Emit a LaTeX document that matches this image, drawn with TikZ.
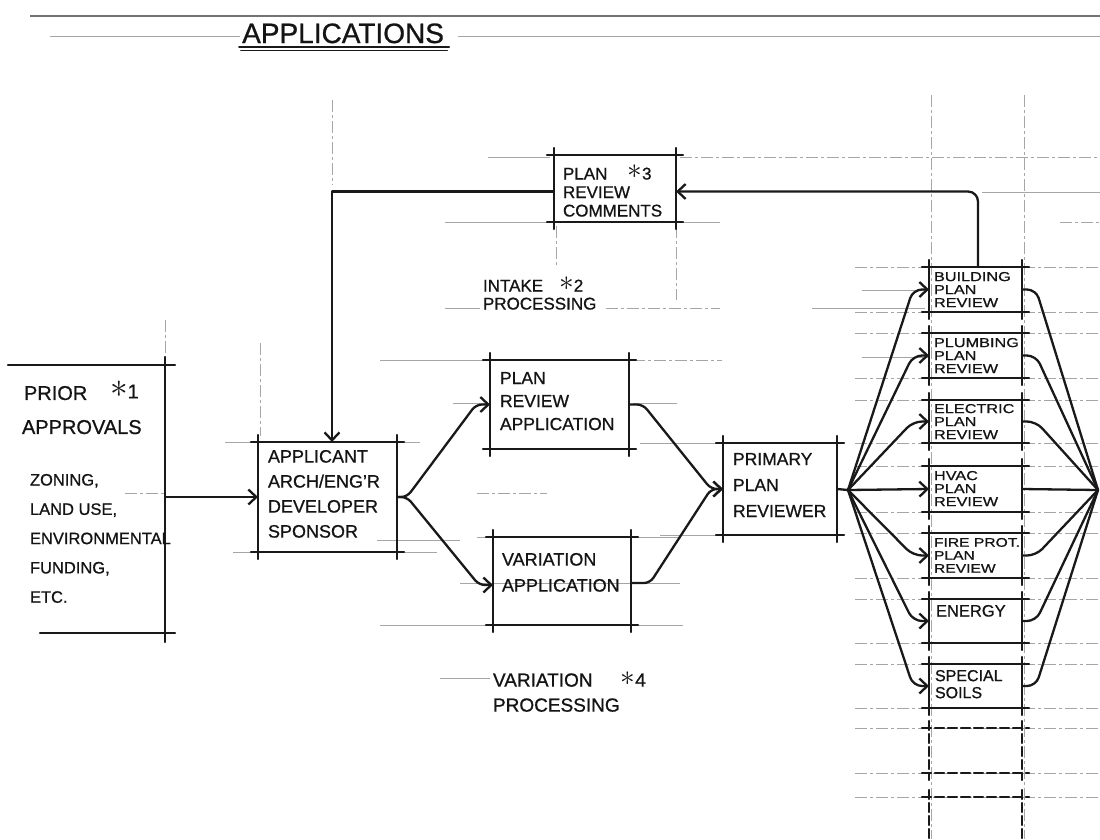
\documentclass[tikz,border=0pt]{standalone}
\usepackage{fontspec}
\setmainfont[FakeBold=0.8]{Liberation Sans}
\newfontfamily\widef[FakeStretch=1.25,FakeBold=0.8]{Liberation Sans}
\usetikzlibrary{arrows.meta,calc}
\newcommand\fs[2]{\fontsize{#1}{#2}\selectfont}
\newcommand\ask{\raisebox{0.05em}{\scalebox{1.7}{$\ast$}}}
% box with hand-drawn overshooting edges: [opts]{name}{x1}{y1}{x2}{y2}
\newcommand\skbox[6][]{%
  \node[inner sep=0pt, outer sep=0pt, minimum width={#5-#3}, minimum height={#6-#4}] (#2) at ({(#3+#5)/2},{(#4+#6)/2}) {};
  \draw[ink,#1] ([xshift=-7pt]#2.north west) -- ([xshift=7pt]#2.north east);
  \draw[ink,#1] ([xshift=-7pt]#2.south west) -- ([xshift=7pt]#2.south east);
  \draw[ink,#1] ([yshift=7pt]#2.north west) -- ([yshift=-7pt]#2.south west);
  \draw[ink,#1] ([yshift=7pt]#2.north east) -- ([yshift=-7pt]#2.south east);
}
\begin{document}
\begin{tikzpicture}[x=1pt,y=-1pt,
  ink/.style={line width=2.3pt, draw=black!90, line cap=round, line join=round},
  arr/.style={ink, -{Straight Barb[length=8pt,width=15pt]}},
  paper/.style={draw=black!35, line width=0.9pt},
  paperd/.style={draw=black!35, line width=0.9pt, dash pattern=on 12pt off 3pt on 3pt off 3pt},
  txt/.style={anchor=north west, inner sep=0pt, outer sep=0pt, align=left, text=black!92},
  ctx/.style={txt, font=\widef\fs{13}{13}},
]
\useasboundingbox (0,0) rectangle (1100,839);
\fill[white] (0,0) rectangle (1100,839);
\clip (0,0) rectangle (1100,839);

% ---- ruled paper lines (background) ----
\draw[draw=black!55, line width=1.1pt] (30,16) -- (1100,16);
\foreach \yy/\xa/\xb in {36/50/240, 36/458/1100,
  157/488/550, 222/445/550, 222/680/720, 308/445/480, 308/812/925,
  360/380/490, 403/453/490, 403/633/677, 442/225/420, 443/640/723,
  540/377/460, 537/477/493, 537/635/680, 535/660/723, 552/233/437,
  583/460/680, 625/380/683, 678/440/490, 192/982/1100,
  290/862/929, 357/862/929}
  \draw[paper] (\xa,\yy) -- (\xb,\yy);
\foreach \yy/\xa/\xb in {157/680/1100, 222/1060/1100, 308/606/720, 360/633/722,
  493/125/165, 493/477/547}
  \draw[paperd] (\xa,\yy) -- (\xb,\yy);
\foreach \yy in {267,312,333,378,400,443,466,512,533,578,599,643,664,708,728,773,797}
  \draw[paperd] (855,\yy) -- (1100,\yy);
\foreach \xx/\ya/\yb in {931/95/839, 1024/95/839, 332/100/185, 556/226/268,
  676/226/300, 165/320/357, 260/343/436}
  \draw[paperd] (\xx,\ya) -- (\xx,\yb);

% ---- title ----
\node[inner sep=0pt, anchor=base west, font=\fs{28}{30}, text=black!92] (title) at (242,43) {APPLICATIONS};
\draw[ink, line width=1.8pt] ($(title.base west)+(-3,4)$) -- ($(title.base east)+(5,4)$);
\draw[ink, line width=1.8pt] ($(title.base west)+(-1,7.5)$) -- ($(title.base east)+(3,7.5)$);

% ---- prior approvals (open box) ----
\node[inner sep=0pt, outer sep=0pt, minimum width=160, minimum height=268] (prior) at (85,499) {};
\draw[ink] (8,365) -- (175,365);
\draw[ink] (165,357) -- (165,642);
\draw[ink] (40,633) -- (175,633);
\node[txt, font=\fs{20}{20}] (pr1) at (24,386) {PRIOR};
\node[txt, font=\fs{20}{20}] (pr2) at (110,381) {\ask1};
\node[txt, font=\fs{20}{20}] (pr3) at (22,420) {APPROVALS};
\node[txt, font=\fs{16.5}{29.3}] (pr4) at (30,474) {ZONING,\\LAND USE,\\ENVIRONMENTAL\\FUNDING,\\ETC.};

% ---- main boxes ----
\skbox{com}{554}{155}{676}{222}
\node[txt, font=\fs{17}{18.5}] (comt) at ([shift={(9pt,-10pt)}]com.north west) {PLAN\hspace{20pt}\ask3\\REVIEW\\COMMENTS};

\skbox{app}{258}{442}{397}{552}
\node[txt, font=\fs{18}{25}] (appt) at ([shift={(10pt,-8pt)}]app.north west) {APPLICANT\\ARCH/ENG'R\\DEVELOPER\\SPONSOR};

\skbox{pra}{490}{360}{629}{449}
\node[txt, font=\fs{17.5}{23}] (prat) at ([shift={(10pt,-12pt)}]pra.north west) {PLAN\\REVIEW\\APPLICATION};

\skbox{va}{493}{537}{631}{625}
\node[txt, font=\fs{18}{26}] (vat) at ([shift={(9pt,-16pt)}]va.north west) {VARIATION\\APPLICATION};

\skbox{ppr}{723}{443}{837}{535}
\node[txt, font=\fs{17.5}{26}] (pprt) at ([shift={(10pt,-10pt)}]ppr.north west) {PRIMARY\\PLAN\\REVIEWER};

\node[txt, font=\fs{17}{18}] (intake) at (483,277) {INTAKE\hspace{16pt}\ask2\\PROCESSING};
\node[txt, font=\fs{19}{25}] (varp) at (493,672) {VARIATION\hspace{28pt}\ask4\\PROCESSING};

% ---- review column ----
\skbox{b1}{929}{267}{1022}{312}
\skbox{b2}{929}{333}{1022}{378}
\skbox{b3}{929}{400}{1022}{443}
\skbox{b4}{929}{466}{1022}{512}
\skbox{b5}{929}{533}{1022}{578}
\skbox{b6}{929}{599}{1022}{643}
\skbox{b7}{929}{664}{1022}{708}
\skbox[dash pattern=on 9pt off 4pt]{d1}{929}{728}{1022}{773}
\skbox[dash pattern=on 9pt off 4pt]{d2}{929}{797}{1022}{870}
\node[ctx] (b1t) at ([shift={(5pt,-5pt)}]b1.north west) {BUILDING\\PLAN\\REVIEW};
\node[ctx] (b2t) at ([shift={(5pt,-5pt)}]b2.north west) {PLUMBING\\PLAN\\REVIEW};
\node[ctx] (b3t) at ([shift={(5pt,-4pt)}]b3.north west) {ELECTRIC\\PLAN\\REVIEW};
\node[ctx] (b4t) at ([shift={(5pt,-5pt)}]b4.north west) {HVAC\\PLAN\\REVIEW};
\node[ctx, font=\widef\fs{12.5}{13}] (b5t) at ([shift={(5pt,-5pt)}]b5.north west) {FIRE PROT.\\PLAN\\REVIEW};
\node[txt, font=\fs{16.5}{17}] (b6t) at ([shift={(7pt,-6pt)}]b6.north west) {ENERGY};
\node[txt, font=\fs{16}{17}] (b7t) at ([shift={(6pt,-6pt)}]b7.north west) {SPECIAL\\SOILS};

% ---- connectors ----
\coordinate (fan) at (848,490);
\coordinate (conv) at (1098,490);

\draw[arr] (prior.east |- app.west) -- (app.west);
\draw[arr, rounded corners=6pt] (app.east) -- ++(10,0) -- ($(pra.west)+(-14,0)$) -- (pra.west);
\draw[arr, rounded corners=6pt] (app.east) -- ++(10,0) -- ($(va.west)+(-14,4)$) -- ($(va.west)+(0,4)$);
\draw[arr, rounded corners=6pt] (pra.east) -- ++(14,0) -- ($(ppr.west)+(-12,0)$) -- (ppr.west);
\draw[arr, rounded corners=6pt] ($(va.east)+(0,2)$) -- ++(19,0) -- ($(ppr.west)+(-12,0)$) -- (ppr.west);
\draw[ink] (ppr.east) -- (fan);

\foreach \bn in {b1,b2,b3,b5,b6,b7}{
  \draw[arr, rounded corners=9pt] (fan) -- ($(\bn.west)+(-16,0)$) -- (\bn.west);
  \draw[ink, rounded corners=9pt] (\bn.east) -- ++(14,0) -- (conv);
}
\draw[arr] (fan) -- (b4.west);
\draw[ink] (b4.east) -- (conv);

\draw[arr, rounded corners=10pt] ($(b1.north)+(2.5,0)$) |- ($(com.east)+(0,3)$);
\draw[arr] ($(com.west)+(0,3)$) -| ($(app.north)+(4.5,0)$);
\end{tikzpicture}
\end{document}
